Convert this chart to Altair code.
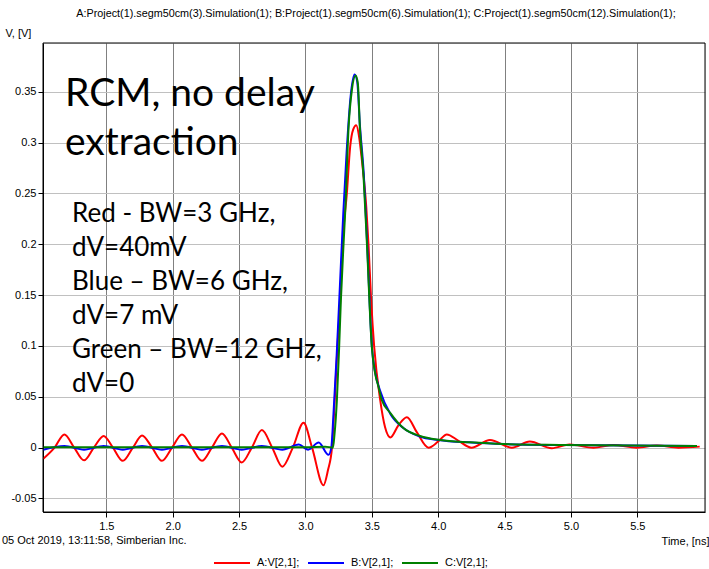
import altair as alt
import pandas as pd

# ---- data ----
red_t = [1.025, 1.11, 1.184, 1.258, 1.332, 1.406, 1.48, 1.55, 1.624, 1.70, 1.769, 1.845, 1.919, 1.995,
         2.07, 2.145, 2.22, 2.295, 2.371, 2.445, 2.52, 2.596, 2.672, 2.75, 2.826, 2.905, 2.986, 3.05,
         3.136, 3.17, 3.20, 3.22, 3.241, 3.262, 3.279, 3.312, 3.337, 3.36, 3.383, 3.405, 3.425, 3.458,
         3.475, 3.495, 3.518, 3.563, 3.60, 3.64, 3.70, 3.764, 3.84, 3.927, 4.0, 4.065, 4.15, 4.25, 4.39,
         4.555, 4.69, 4.856, 4.99, 5.17, 5.32, 5.496, 5.647, 5.81, 5.97]
red_v = [-0.011, 0.0, 0.013, 0.0, -0.0125, 0.0, 0.0115, 0.0, -0.013, 0.0, 0.012, 0.0, -0.013, 0.0,
         0.013, 0.0, -0.013, 0.0, 0.014, 0.0, -0.0145, 0.0, 0.0173, 0.0, -0.0188, 0.0, 0.0245, 0.0,
         -0.037, -0.022, 0.0, 0.045, 0.099, 0.145, 0.2, 0.25, 0.296, 0.313, 0.317, 0.305, 0.283, 0.237,
         0.2, 0.145, 0.099, 0.047, 0.02, 0.010, 0.022, 0.030, 0.015, 0.0, 0.006, 0.013, 0.007, 0.0, 0.0075,
         0.0, 0.006, -0.0005, 0.003, 0.0, 0.0025, 0.0, 0.002, 0.0, 0.001]

blue_t = [1.025, 1.184, 1.332, 1.48, 1.624, 1.769, 1.919, 2.07, 2.22, 2.371, 2.52, 2.672, 2.826,
          2.95, 3.02, 3.10, 3.174, 3.195, 3.21, 3.235, 3.26, 3.285, 3.31, 3.34, 3.37, 3.39, 3.41,
          3.44, 3.465, 3.50, 3.525, 3.56, 3.64, 3.74, 3.86, 4.0, 4.25, 4.5, 4.95, 5.95]
blue_v = [-0.002, 0.0015, -0.002, 0.0015, -0.002, 0.0015, -0.002, 0.0015, -0.002, 0.0015, -0.002, 0.0015, -0.002,
          0.003, -0.002, 0.005, -0.007, 0.0, 0.03, 0.09, 0.16, 0.23, 0.29, 0.345, 0.367, 0.36, 0.318,
          0.268, 0.20, 0.10, 0.074, 0.057, 0.033, 0.019, 0.011, 0.0075, 0.005, 0.0035, 0.0025, 0.0016]

green_t = [1.025, 2.0, 3.0, 3.15, 3.207, 3.219, 3.237, 3.254, 3.267, 3.287, 3.30, 3.325, 3.35, 3.378,
           3.395, 3.41, 3.438, 3.463, 3.50, 3.525, 3.55, 3.575, 3.64, 3.74, 3.864, 4.015, 4.24, 4.49,
           4.94, 5.95]
green_v = [0.0005, 0.0005, 0.0005, 0.001, 0.0, 0.013, 0.047, 0.099, 0.145, 0.200, 0.233, 0.315, 0.352, 0.366,
           0.358, 0.315, 0.266, 0.201, 0.099, 0.073, 0.06, 0.047, 0.034, 0.019, 0.0114, 0.0075, 0.0052, 0.0035,
           0.0026, 0.0016]

series = ["A:V[2,1];", "B:V[2,1];", "C:V[2,1];"]
colors = ["#ff0000", "#0000ff", "#008000"]

x_ticks = [1.5, 2, 2.5, 3, 3.5, 4, 4.5, 5, 5.5]
y_ticks = [-0.05, 0, 0.05, 0.1, 0.15, 0.2, 0.25, 0.3, 0.35]

title_text = ("A:Project(1).segm50cm(3).Simulation(1); B:Project(1).segm50cm(6).Simulation(1); "
              "C:Project(1).segm50cm(12).Simulation(1);")
big_lines = ["RCM, no delay", "extraction"]
small_lines = ["Red - BW=3 GHz,", "dV=40mV", "Blue \u2013 BW=6 GHz,", "dV=7 mV",
               "Green \u2013 BW=12 GHz,", "dV=0"]
footer_text = "05 Oct 2019, 13:11:58, Simberian Inc."

rows = []
for name, ts, vs in zip(series, [red_t, blue_t, green_t], [red_v, blue_v, green_v]):
    for t, v in zip(ts, vs):
        rows.append({"t": t, "v": v, "s": name})
df = pd.DataFrame(rows)

W, H = 662, 469
FONT = "Liberation Sans"

xscale = alt.Scale(domain=[1.023, 6.01], nice=False, zero=False)
yscale = alt.Scale(domain=[-0.0633, 0.398], nice=False, zero=False)

lines = alt.Chart(df).mark_line(interpolate="monotone", strokeWidth=2, clip=True).encode(
    x=alt.X("t:Q", scale=xscale,
            axis=alt.Axis(values=x_ticks, title="Time, [ns]", grid=True, gridColor="#808080",
                          gridWidth=1, domain=True, domainColor="#000000", tickColor="#000000",
                          tickSize=5, labelPadding=3, labelFont=FONT, labelFontSize=11,
                          labelColor="#000000",
                          titleFont=FONT, titleFontSize=11, titleFontWeight="normal",
                          titleColor="#000000", titleAnchor="end", titleAlign="right",
                          titleX=666, titleY=29, titleBaseline="middle")),
    y=alt.Y("v:Q", scale=yscale,
            axis=alt.Axis(values=y_ticks, title="V, [V]", grid=True, gridColor="#c0c0c0",
                          gridWidth=1, domain=True, domainColor="#000000", tickColor="#000000",
                          tickSize=5, labelPadding=2, labelFont=FONT, labelFontSize=11,
                          labelColor="#000000",
                          labelExpr="datum.value < 0 ? '-' + format(-datum.value, '~g') : format(datum.value, '~g')",
                          titleFont=FONT, titleFontSize=11, titleFontWeight="normal",
                          titleColor="#000000", titleAngle=0, titleAlign="left",
                          titleX=-38, titleY=-10, titleBaseline="middle")),
    color=alt.Color("s:N", scale=alt.Scale(domain=series, range=colors),
                    legend=alt.Legend(title=None, orient="none", direction="horizontal",
                                      legendX=170, legendY=501, symbolType="stroke",
                                      symbolStrokeWidth=2, symbolSize=1296, labelFont=FONT,
                                      labelFontSize=11, labelColor="#000000", labelOffset=6,
                                      columnPadding=4)),
)

frame = alt.Chart(pd.DataFrame({"k": [0]})).mark_rect(
    fill=None, stroke="#000000", strokeWidth=1, filled=False
).encode(x=alt.value(0), x2=alt.value(W), y=alt.value(0), y2=alt.value(H))

big = alt.Chart(pd.DataFrame({"txt": [big_lines]})).mark_text(
    align="left", baseline="alphabetic", font="Lato", fontSize=39, lineHeight=49, color="#000000"
).encode(x=alt.value(22), y=alt.value(63), text="txt")

small = alt.Chart(pd.DataFrame({"txt": [small_lines]})).mark_text(
    align="left", baseline="alphabetic", font="Lato", fontSize=26, lineHeight=34, color="#000000"
).encode(x=alt.value(29), y=alt.value(179), text="txt")

footer = alt.Chart(pd.DataFrame({"txt": [footer_text]})).mark_text(
    align="left", baseline="middle", font=FONT, fontSize=11, color="#000000", clip=False
).encode(x=alt.value(-41), y=alt.value(498), text="txt")

title = alt.Chart(pd.DataFrame({"txt": [title_text]})).mark_text(
    align="center", baseline="middle", font=FONT, fontSize=10.8, color="#000000", clip=False
).encode(x=alt.value(333), y=alt.value(-29), text="txt")

chart = alt.layer(lines, frame, big, small, footer, title).properties(
    width=W, height=H,
    autosize=alt.AutoSizeParams(type="none"),
    padding={"left": 43, "top": 43, "right": 4, "bottom": 57},
).configure_view(stroke="#000000", strokeWidth=1).configure(background="#ffffff")

chart.save("out.html", embed_options={"renderer": "svg", "actions": False})
